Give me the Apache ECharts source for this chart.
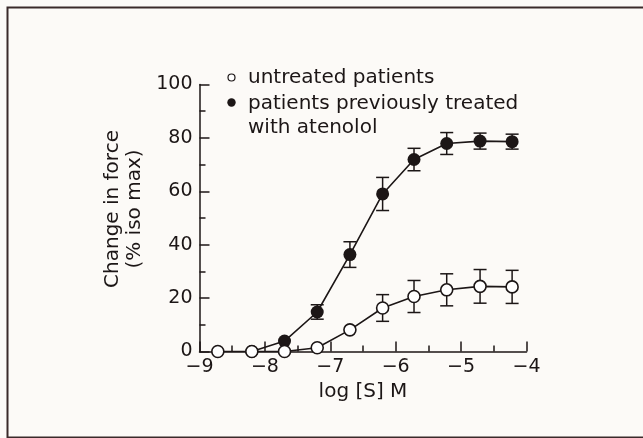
<!DOCTYPE html>
<html>
<head>
<meta charset="utf-8">
<script src="https://cdn.jsdelivr.net/npm/echarts@6/dist/echarts.min.js"></script>
<style>
html,body{margin:0;padding:0;background:#fcfaf7;}
#c{width:643px;height:438px;}
</style>
</head>
<body>
<div id="c"></div>
<script>
// log [S] M positions of the measurements
const xUntreated = [-8.72, -8.2, -7.7, -7.2, -6.7, -6.2, -5.72, -5.22, -4.71, -4.22];
const untreatedMean = [0, 0, 0, 1.4, 8.1, 16.3, 20.6, 23.1, 24.4, 24.2];
const untreatedErr = [0, 0, 0, 0, 0, 5.0, 6.0, 6.0, 6.3, 6.2];

const xTreated = [-8.2, -7.7, -7.2, -6.7, -6.2, -5.72, -5.22, -4.71, -4.22];
const treatedMean = [0, 3.9, 14.8, 36.3, 59.0, 71.9, 77.9, 78.8, 78.6];
const treatedErr = [0, 0, 2.7, 4.8, 6.2, 4.2, 4.1, 3.0, 2.8];

const xTicks = [-9, -8, -7, -6, -5, -4];
const yTicks = [0, 20, 40, 60, 80, 100];

const legendNames = ['untreated patients', 'patients previously treated\nwith atenolol'];

const INK = '#1c1616';
const FONT = 'DejaVu Sans';

function errData(xs, m, e) {
  const out = [];
  for (let i = 0; i < xs.length; i++) {
    if (e[i] > 0) out.push([xs[i], m[i] - e[i], m[i] + e[i]]);
  }
  return out;
}
function pts(xs, m) { return xs.map((x, i) => [x, m[i]]); }

function renderErr(params, api) {
  const x = api.value(0), lo = api.value(1), hi = api.value(2);
  const a = api.coord([x, hi]), b = api.coord([x, lo]);
  const w = 6.5;
  const st = { stroke: INK, lineWidth: 1.5 };
  return {
    type: 'group',
    children: [
      { type: 'line', shape: { x1: a[0], y1: a[1], x2: b[0], y2: b[1] }, style: st },
      { type: 'line', shape: { x1: a[0] - w, y1: a[1], x2: a[0] + w, y2: a[1] }, style: st },
      { type: 'line', shape: { x1: b[0] - w, y1: b[1], x2: b[0] + w, y2: b[1] }, style: st }
    ]
  };
}

const chart = echarts.init(document.getElementById('c'), null, { renderer: 'canvas' });
chart.setOption({
  backgroundColor: '#fcfaf7',
  animation: false,
  textStyle: { fontFamily: FONT, color: INK },
  grid: { left: 199.5, right: 116.5, top: 84.5, bottom: 86.5, containLabel: false },
  xAxis: {
    type: 'value', min: xTicks[0], max: xTicks[xTicks.length - 1], interval: 1,
    name: 'log [S] M', nameLocation: 'middle', nameGap: 30,
    nameTextStyle: { fontFamily: FONT, fontSize: 20, color: INK },
    axisLine: { lineStyle: { color: INK, width: 1.5 } },
    axisTick: { inside: true, length: 10, lineStyle: { color: INK, width: 1.5 } },
    minorTick: { show: true, splitNumber: 2, length: 6, lineStyle: { color: INK, width: 1.5 } },
    splitLine: { show: false },
    axisLabel: { fontFamily: FONT, fontSize: 19, color: INK, margin: 6,
      formatter: v => (v < 0 ? '\u2212' + Math.abs(v) : String(v)) }
  },
  yAxis: {
    type: 'value', min: yTicks[0], max: yTicks[yTicks.length - 1], interval: 20,
    name: 'Change in force\n(% iso max)', nameLocation: 'middle', nameGap: 53,
    nameTextStyle: { fontFamily: FONT, fontSize: 20, color: INK, lineHeight: 22, padding: [0, 0, 0, 18] },
    axisLine: { show: true, lineStyle: { color: INK, width: 1.5 } },
    axisTick: { show: true, inside: true, length: 10, lineStyle: { color: INK, width: 1.5 } },
    minorTick: { show: true, splitNumber: 2, length: 6, lineStyle: { color: INK, width: 1.5 } },
    splitLine: { show: false },
    axisLabel: { fontFamily: FONT, fontSize: 19, color: INK, margin: 7 }
  },
  series: [
    { type: 'custom', name: 'treated err', renderItem: renderErr, data: errData(xTreated, treatedMean, treatedErr), z: 1, silent: true },
    { type: 'custom', name: 'untreated err', renderItem: renderErr, data: errData(xUntreated, untreatedMean, untreatedErr), z: 1, silent: true },
    { type: 'line', name: legendNames[1], data: pts(xTreated, treatedMean), z: 2,
      symbol: 'circle', symbolSize: 13, showAllSymbol: true,
      lineStyle: { color: INK, width: 1.6 },
      itemStyle: { color: INK, borderColor: INK, borderWidth: 0 } },
    { type: 'line', name: legendNames[0], data: pts(xUntreated, untreatedMean), z: 3,
      symbol: 'circle', symbolSize: 12, showAllSymbol: true,
      lineStyle: { color: INK, width: 1.6 },
      itemStyle: { color: '#ffffff', borderColor: INK, borderWidth: 1.6 } }
  ],
  graphic: [
    { type: 'rect', left: 5, top: 5, shape: { x: 0, y: 0, width: 660, height: 430 },
      style: { fill: 'none', stroke: '#3a2a2a', lineWidth: 2 }, silent: true, z: 0 },
    { type: 'circle', shape: { cx: 231.5, cy: 77.5, r: 3.5 }, style: { fill: '#fff', stroke: INK, lineWidth: 1.2 }, z: 10 },
    { type: 'circle', shape: { cx: 231.5, cy: 102.5, r: 4.2 }, style: { fill: INK }, z: 10 },
    { type: 'text', x: 248, y: 78, style: { text: legendNames[0], font: '20px "DejaVu Sans"', fill: INK, textVerticalAlign: 'middle' }, z: 10 },
    { type: 'text', x: 248, y: 91.5, style: { text: legendNames[1], font: '20px "DejaVu Sans"', fill: INK, textVerticalAlign: 'top', lineHeight: 24 }, z: 10 }
  ]
});
</script>
</body>
</html>
